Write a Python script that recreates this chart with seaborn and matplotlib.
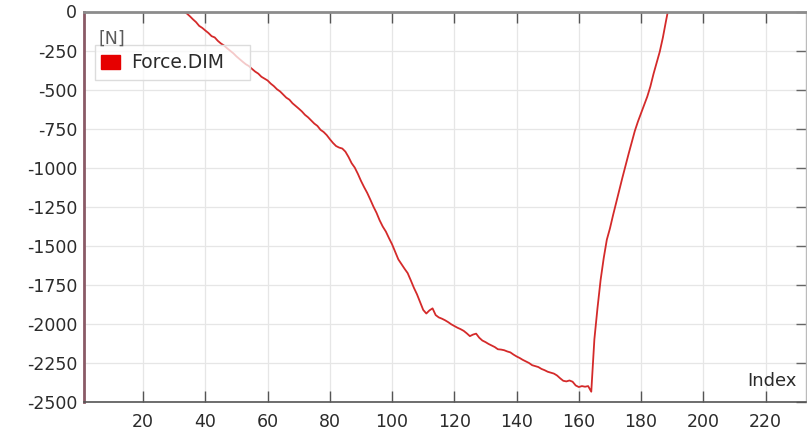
import matplotlib
matplotlib.use("Agg")
import matplotlib.pyplot as plt
from matplotlib.patches import Patch, Rectangle
import seaborn as sns
import pandas as pd

# Measured force per sample index
force = [
    0, -12, -30, -50, -68, -92, -105, -122, -138, -158,
    -166, -188, -205, -218, -236, -252, -268, -288, -305, -322,
    -338, -350, -368, -385, -398, -418, -430, -442, -462, -478,
    -498, -512, -532, -552, -565, -588, -605, -622, -640, -662,
    -678, -698, -718, -733, -758, -772, -792, -818, -842, -862,
    -872, -878, -898, -932, -972, -1000, -1040, -1085, -1125, -1162,
    -1205, -1250, -1290, -1338, -1378, -1410, -1452, -1492, -1540, -1588,
    -1618, -1648, -1676, -1722, -1770, -1812, -1862, -1912, -1935, -1915,
    -1902, -1945, -1960, -1968, -1978, -1990, -2004, -2015, -2026, -2035,
    -2046, -2062, -2080, -2070, -2064, -2090, -2108, -2118, -2130, -2140,
    -2150, -2164, -2166, -2170, -2178, -2184, -2198, -2210, -2220, -2232,
    -2242, -2252, -2266, -2272, -2278, -2290, -2298, -2308, -2314, -2320,
    -2332, -2350, -2366, -2370, -2364, -2372, -2396, -2406, -2400, -2404,
    -2400, -2436, -2100, -1900, -1720, -1580, -1462, -1390, -1305, -1225,
    -1145, -1065, -988, -912, -838, -765, -705, -652, -600, -545,
    -480, -400, -330, -258, -168, -62, 40,
]
first_index = 33
index = list(range(first_index, first_index + len(force)))

x_ticks = [20, 40, 60, 80, 100, 120, 140, 160, 180, 200, 220]
y_ticks = [0, -250, -500, -750, -1000, -1250, -1500, -1750, -2000, -2250, -2500]

df = pd.DataFrame({"Index": index, "Force.DIM": force})

sns.set_style("white")
plt.rcParams["font.family"] = ["DejaVu Sans"]

W, H = 807, 434
fig = plt.figure(figsize=(W / 100, H / 100), dpi=100)
left_px, right_px, top_px, bot_px = 84, 806, 11.5, 401.7
ax = fig.add_axes([left_px / W, 1 - bot_px / H,
                   (right_px - left_px) / W, (bot_px - top_px) / H])

line_color = "#d42a2a"
sns.lineplot(data=df, x="Index", y="Force.DIM", ax=ax, color=line_color,
             linewidth=1.3, legend=False, zorder=2)

ax.set_xlim(1, 233)
ax.set_ylim(-2500, 0)
ax.set_xticks(x_ticks)
ax.set_yticks(y_ticks)
ax.set_xticklabels([str(v) for v in x_ticks])
ax.set_yticklabels([str(v) for v in y_ticks])
ax.set_xlabel("")
ax.set_ylabel("")

ax.grid(True, color="#e6e6e6", linewidth=0.9)
ax.set_axisbelow(True)

text_color = "#2b2b2b"
tick_fs = 12.5
ax.tick_params(axis="x", which="major", direction="in", length=8, width=1,
               color="#555555", labelsize=tick_fs, labelcolor=text_color,
               top=True, bottom=True, pad=8)
ax.tick_params(axis="y", which="major", direction="in", length=7, width=1,
               color="#666666", labelsize=tick_fs, labelcolor=text_color,
               pad=5, right=True)

for side, col, lw in [("left", "#8a5a66", 2.0), ("top", "#8c8c8c", 2.0),
                      ("bottom", "#555555", 1.2), ("right", "#bbbbbb", 1.0)]:
    ax.spines[side].set_visible(True)
    ax.spines[side].set_color(col)
    ax.spines[side].set_linewidth(lw)

# legend box, unit label and legend entry
box = Rectangle((95 / W, 1 - 80 / H), 155 / W, 35 / H,
                transform=fig.transFigure, facecolor="white", alpha=0.75,
                edgecolor="none", zorder=3, clip_on=False)
frame = Rectangle((95 / W, 1 - 80 / H), 155 / W, 35 / H,
                  transform=fig.transFigure, facecolor="none",
                  edgecolor="#dcdcdc", linewidth=1, zorder=3, clip_on=False)
ax.add_patch(box)
ax.add_patch(frame)
ax.text(99 / W, 1 - 39 / H, "[N]", transform=fig.transFigure,
        fontsize=12.5, color="#5a5a5a", ha="left", va="center", zorder=7)

handle = Patch(facecolor="#e60000", edgecolor="#e60000", label="Force.DIM")
leg = ax.legend(handles=[handle], loc="center left",
                bbox_to_anchor=(97 / W, 1 - 63 / H),
                bbox_transform=fig.transFigure, frameon=False, fontsize=13.5,
                handlelength=1.0, handleheight=0.7, handletextpad=0.6,
                borderpad=0.2, borderaxespad=0)
leg.set_zorder(6)
for t in leg.get_texts():
    t.set_color(text_color)

ax.text(797 / W, 1 - 386 / H, "Index", transform=fig.transFigure,
        fontsize=13, color=text_color, ha="right", va="baseline")

fig.savefig("out.png", dpi=100)
